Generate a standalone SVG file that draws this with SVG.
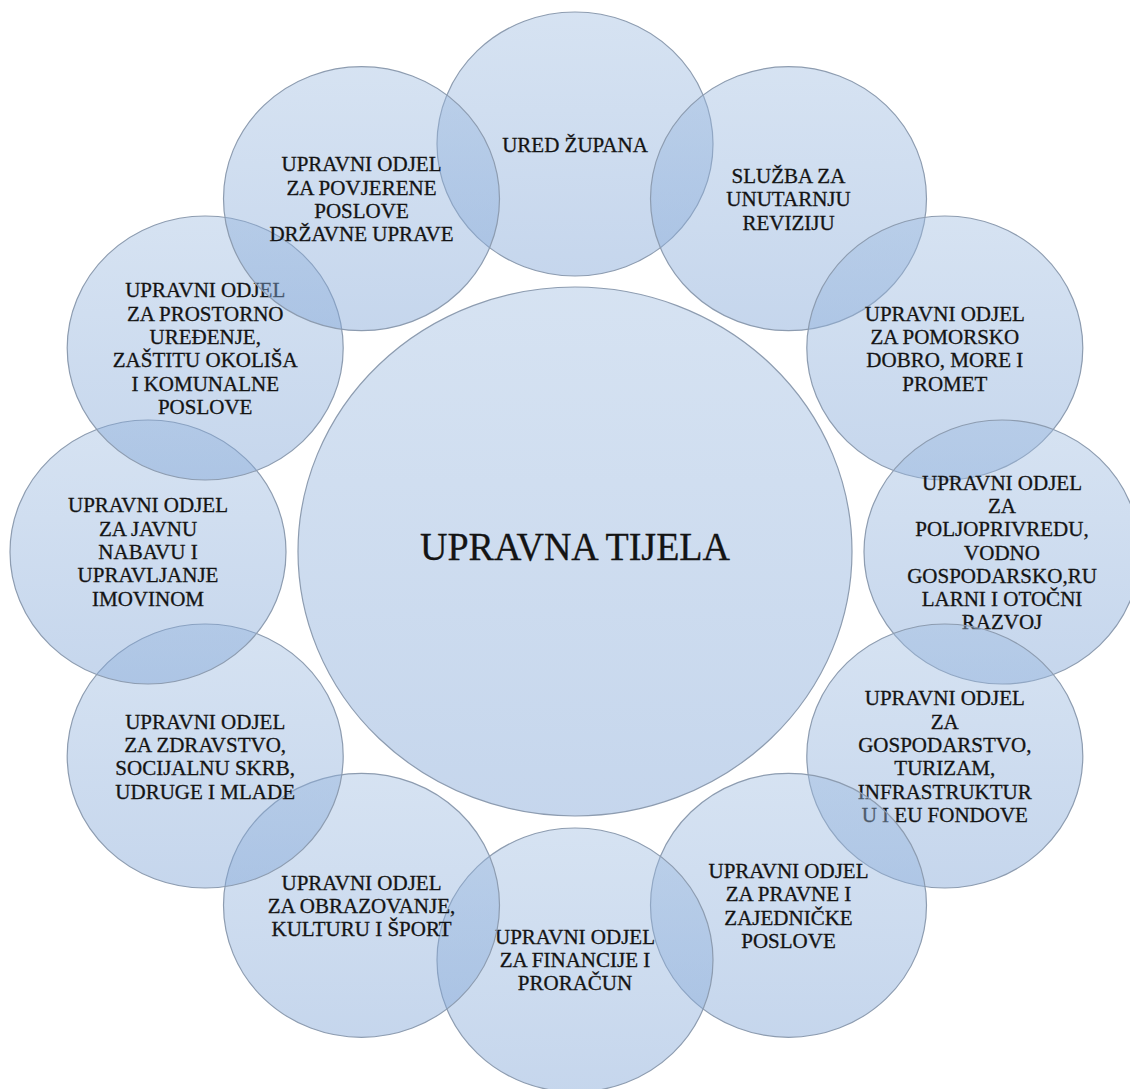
<svg xmlns="http://www.w3.org/2000/svg" width="1130" height="1089" viewBox="0 0 1130 1089">
<defs>
<linearGradient id="g" x1="0" y1="0" x2="0" y2="1">
<stop offset="0" stop-color="#9dbbe0" stop-opacity="0.42"/>
<stop offset="1" stop-color="#7fa4d6" stop-opacity="0.45"/>
</linearGradient>
<style>
.c{fill:url(#g);stroke:#8d9cb0;stroke-width:1.2}
.t{font-family:"Liberation Serif","Times New Roman",serif;font-size:21px;fill:#141414;stroke:#141414;stroke-width:0.3;text-anchor:middle}
.m{font-family:"Liberation Serif","Times New Roman",serif;font-size:39px;fill:#141414;stroke:#141414;stroke-width:0.3;text-anchor:middle}
</style>
</defs>
<rect width="1130" height="1089" fill="#ffffff"/>
<g id="center">
<ellipse class="c" cx="575" cy="551.5" rx="277" ry="264.5"/>
<text class="m" x="575" y="560" textLength="310" lengthAdjust="spacingAndGlyphs">UPRAVNA TIJELA</text>
</g>
<g id="connectors"></g>
<g id="n1">
<ellipse class="c" cx="575" cy="144" rx="138" ry="132"/>
<text class="t" x="575" y="151.5">URED ŽUPANA</text>
</g>
<g id="n2">
<ellipse class="c" cx="788.5" cy="198.7" rx="138" ry="132"/>
<text class="t" x="788.5" y="182.9"><tspan x="788.5">SLUŽBA ZA</tspan><tspan x="788.5" dy="23.3">UNUTARNJU</tspan><tspan x="788.5" dy="23.3">REVIZIJU</tspan></text>
</g>
<g id="n3">
<ellipse class="c" cx="944.8" cy="348" rx="138" ry="132"/>
<text class="t" x="944.8" y="320.6"><tspan x="944.8">UPRAVNI ODJEL</tspan><tspan x="944.8" dy="23.3">ZA POMORSKO</tspan><tspan x="944.8" dy="23.3">DOBRO, MORE I</tspan><tspan x="944.8" dy="23.3">PROMET</tspan></text>
</g>
<g id="n4">
<ellipse class="c" cx="1002" cy="552" rx="138" ry="132"/>
<text class="t" x="1002" y="489.6"><tspan x="1002">UPRAVNI ODJEL</tspan><tspan x="1002" dy="23.3">ZA</tspan><tspan x="1002" dy="23.3">POLJOPRIVREDU,</tspan><tspan x="1002" dy="23.3">VODNO</tspan><tspan x="1002" dy="23.3">GOSPODARSKO,RU</tspan><tspan x="1002" dy="23.3">LARNI I OTOČNI</tspan><tspan x="1002" dy="23.3">RAZVOJ</tspan></text>
</g>
<g id="n5">
<ellipse class="c" cx="944.8" cy="756" rx="138" ry="132"/>
<text class="t" x="944.8" y="705.3"><tspan x="944.8">UPRAVNI ODJEL</tspan><tspan x="944.8" dy="23.3">ZA</tspan><tspan x="944.8" dy="23.3">GOSPODARSTVO,</tspan><tspan x="944.8" dy="23.3">TURIZAM,</tspan><tspan x="944.8" dy="23.3">INFRASTRUKTUR</tspan><tspan x="944.8" dy="23.3">U I EU FONDOVE</tspan></text>
</g>
<g id="n6">
<ellipse class="c" cx="788.5" cy="905.3" rx="138" ry="132"/>
<text class="t" x="788.5" y="877.9"><tspan x="788.5">UPRAVNI ODJEL</tspan><tspan x="788.5" dy="23.3">ZA PRAVNE I</tspan><tspan x="788.5" dy="23.3">ZAJEDNIČKE</tspan><tspan x="788.5" dy="23.3">POSLOVE</tspan></text>
</g>
<g id="n7">
<ellipse class="c" cx="575" cy="960" rx="138" ry="132"/>
<text class="t" x="575" y="943.5"><tspan x="575">UPRAVNI ODJEL</tspan><tspan x="575" dy="23.3">ZA FINANCIJE I</tspan><tspan x="575" dy="23.3">PRORAČUN</tspan></text>
</g>
<g id="n8">
<ellipse class="c" cx="361.5" cy="905.3" rx="138" ry="132"/>
<text class="t" x="361.5" y="889.5"><tspan x="361.5">UPRAVNI ODJEL</tspan><tspan x="361.5" dy="23.3">ZA OBRAZOVANJE,</tspan><tspan x="361.5" dy="23.3">KULTURU I ŠPORT</tspan></text>
</g>
<g id="n9">
<ellipse class="c" cx="205.2" cy="756" rx="138" ry="132"/>
<text class="t" x="205.2" y="728.6"><tspan x="205.2">UPRAVNI ODJEL</tspan><tspan x="205.2" dy="23.3">ZA ZDRAVSTVO,</tspan><tspan x="205.2" dy="23.3">SOCIJALNU SKRB,</tspan><tspan x="205.2" dy="23.3">UDRUGE I MLADE</tspan></text>
</g>
<g id="n10">
<ellipse class="c" cx="148" cy="552" rx="138" ry="132"/>
<text class="t" x="148" y="512.4"><tspan x="148">UPRAVNI ODJEL</tspan><tspan x="148" dy="23.3">ZA JAVNU</tspan><tspan x="148" dy="23.3">NABAVU I</tspan><tspan x="148" dy="23.3">UPRAVLJANJE</tspan><tspan x="148" dy="23.3">IMOVINOM</tspan></text>
</g>
<g id="n11">
<ellipse class="c" cx="205.2" cy="348" rx="138" ry="132"/>
<text class="t" x="205.2" y="297.3"><tspan x="205.2">UPRAVNI ODJEL</tspan><tspan x="205.2" dy="23.3">ZA PROSTORNO</tspan><tspan x="205.2" dy="23.3">UREĐENJE,</tspan><tspan x="205.2" dy="23.3">ZAŠTITU OKOLIŠA</tspan><tspan x="205.2" dy="23.3">I KOMUNALNE</tspan><tspan x="205.2" dy="23.3">POSLOVE</tspan></text>
</g>
<g id="n12">
<ellipse class="c" cx="361.5" cy="198.7" rx="138" ry="132"/>
<text class="t" x="361.5" y="171.3"><tspan x="361.5">UPRAVNI ODJEL</tspan><tspan x="361.5" dy="23.3">ZA POVJERENE</tspan><tspan x="361.5" dy="23.3">POSLOVE</tspan><tspan x="361.5" dy="23.3">DRŽAVNE UPRAVE</tspan></text>
</g>
</svg>
